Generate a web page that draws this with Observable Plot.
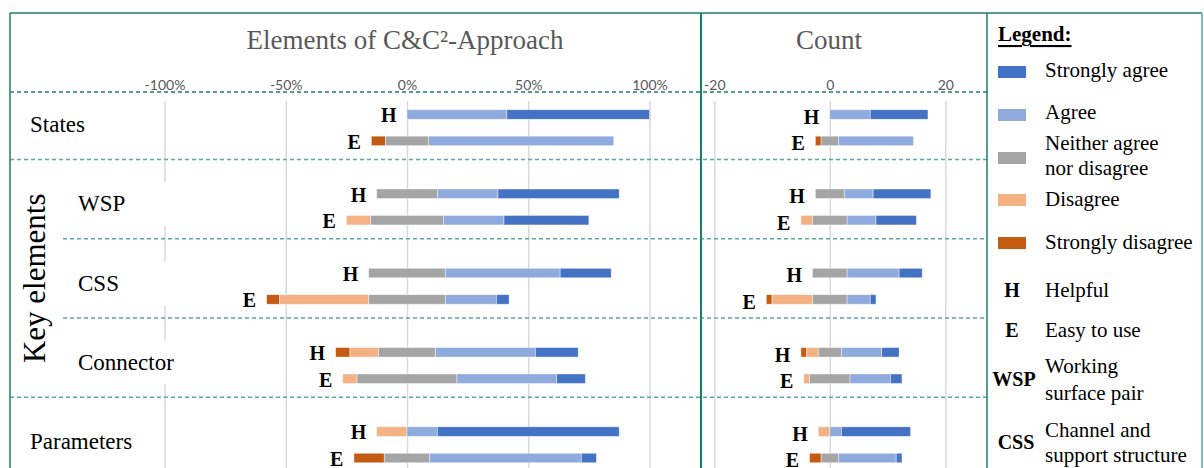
<!DOCTYPE html>
<html><head><meta charset="utf-8">
<script src="https://cdn.jsdelivr.net/npm/d3@7"></script>
<script src="https://cdn.jsdelivr.net/npm/@observablehq/plot@0.6"></script>
<style>
body{margin:0;background:#fff;}
#root{position:relative;width:1204px;height:468px;overflow:hidden;background:#fff;font-family:"Liberation Serif","Times New Roman",serif;}
#root > svg{position:absolute;top:0;}
</style></head><body><div id="root"></div>
<script>
// ---- data ----
const groups = ["States","WSP","CSS","Connector","Parameters"];
const innerGroups = ["WSP","CSS","Connector"];
const ratings = ["Strongly disagree","Disagree","Neither agree nor disagree","Agree","Strongly agree"];
const colors = ["#C55A11","#F4B183","#A5A5A5","#8FAADC","#4472C4"];
const aspects = ["H","E"];
// counts per group: [Strongly disagree, Disagree, Neither, Agree, Strongly agree]
const helpful = [[0,0,0,7,10],[0,0,5,5,10],[0,0,6,9,4],[1,2,4,7,3],[0,2,0,2,12]];
const easy    = [[1,0,3,13,0],[0,2,6,5,7],[1,7,6,4,1],[0,1,7,7,2],[2,0,3,10,1]];
const pctTicks = [-1,-0.5,0,0.5,1];
const countTicks = [-20,0,20];
const legendLabels = [["Strongly agree"],["Agree"],["Neither agree","nor disagree"],["Disagree"],["Strongly disagree"]];
const abbrevs = [["H",["Helpful"]],["E",["Easy to use"]],["WSP",["Working","surface pair"]],["CSS",["Channel and","support structure"]]];

// ---- build rows & segments ----
function build(scaleByN){
  const rows=[], segs=[];
  groups.forEach((g,gi)=>{
    aspects.forEach((a,ai)=>{
      const c = ai===0 ? helpful[gi] : easy[gi];
      const n = d3.sum(c);
      const f = scaleByN ? 1/n : 1;
      const slot = gi*3+ai;
      let cum = -(c[0]+c[1]+c[2]/2)*f;
      rows.push({group:g, aspect:a, slot, start:cum});
      c.forEach((v,k)=>{
        if(v>0){ segs.push({group:g, aspect:a, slot, rating:ratings[k], x1:cum, x2:cum+v*f}); }
        cum += v*f;
      });
    });
  });
  return {rows,segs};
}
const pct = build(true), cnt = build(false);

const yOpt = {domain:[0,13], range:[114.5,458], axis:null};
const serif = "Liberation Serif";
const sans = "Lato";

function panel(data, ticks, fmt, width, xdom, xrange, labelDy){
  return Plot.plot({
    width, height:468, marginTop:92, marginBottom:0, marginLeft:0, marginRight:0,
    x:{domain:xdom, range:xrange, axis:null},
    y:yOpt,
    color:{domain:ratings, range:colors},
    style:{background:"transparent", overflow:"visible"},
    marks:[
      Plot.ruleX(ticks, {x:d=>d, stroke:"#D9D9D9", strokeWidth:1.5, insetTop:9}),
      Plot.text(ticks, {x:d=>d, text:fmt, frameAnchor:"top", dy:-12, fill:"#595959", fontSize:14, fontFamily:sans}),
      Plot.rect(data.segs, {x1:"x1", x2:"x2", y1:d=>d.slot-0.18, y2:d=>d.slot+0.18, fill:"rating", stroke:"white", strokeWidth:0.7, strokeOpacity:0.6}),
      Plot.text(data.rows, {x:"start", y:"slot", text:"aspect", textAnchor:"end", dx:-11, dy:labelDy, fontWeight:"bold", fontSize:20, fontFamily:serif, fill:"#000"})
    ]
  });
}

const root = document.getElementById("root");
const left = panel(pct, pctTicks, d=>`${Math.round(d*100)}%`, 701, [-1,1], [164.5,649.5], 1);
left.style.left = "0px";
root.appendChild(left);
const right = panel(cnt, countTicks, d=>`${d}`, 286, [-20,20], [13.3,244.3], 2.5);
right.style.left = "701px";
root.appendChild(right);

// ---- overlay: frame, separators, titles, labels, legend ----
const ys = left.scale("y");
const svg = d3.select(root).append("svg").attr("width",1204).attr("height",468)
  .style("left","0px").style("pointer-events","none");
const dark = "#1B7F6E", dash = "#56AB9D";

// white boxes behind inner row labels (as in the original text boxes)
innerGroups.forEach(g=>{
  const gi = groups.indexOf(g);
  const yc = ys.apply(gi*3+0.5);
  svg.append("rect").attr("x",63).attr("y",yc-25).attr("width",108).attr("height",44).attr("fill","#fff");
});

// row labels
groups.forEach((g,gi)=>{
  const inner = innerGroups.includes(g);
  svg.append("text").attr("x", inner?78:30).attr("y", ys.apply(gi*3+0.5)-3)
    .attr("dominant-baseline","central").attr("font-family",serif).attr("font-size",23).attr("fill","#000").text(g);
});
const kc = (ys.apply(3.5)+ys.apply(9.5))/2;
svg.append("text").attr("transform",`translate(34,${kc-8}) rotate(-90)`).attr("text-anchor","middle")
  .attr("dominant-baseline","central").attr("font-family",serif).attr("font-size",31).attr("fill","#000").text("Key elements");

// separators
svg.append("line").attr("x1",10).attr("x2",987).attr("y1",92).attr("y2",92)
  .attr("stroke",dark).attr("stroke-width",1.3).attr("stroke-dasharray","4,3");
[[1.7,10],[4.7,63],[7.7,63],[10.7,10]].forEach(([s,x0])=>{
  const y = ys.apply(s);
  svg.append("line").attr("x1",x0).attr("x2",987).attr("y1",y).attr("y2",y)
    .attr("stroke",dash).attr("stroke-width",1.5).attr("stroke-dasharray","4,3");
});

// frame
svg.append("line").attr("x1",10).attr("x2",1202).attr("y1",13).attr("y2",13).attr("stroke",dark).attr("stroke-width",1.5);
svg.append("line").attr("x1",10).attr("x2",10).attr("y1",13).attr("y2",468).attr("stroke",dark).attr("stroke-width",1.5);
svg.append("line").attr("x1",701).attr("x2",701).attr("y1",13).attr("y2",468).attr("stroke",dark).attr("stroke-width",2);
svg.append("line").attr("x1",987).attr("x2",987).attr("y1",13).attr("y2",468).attr("stroke",dark).attr("stroke-width",1.5);
svg.append("line").attr("x1",1202).attr("x2",1202).attr("y1",13).attr("y2",468).attr("stroke","#7FC2B7").attr("stroke-width",2);

// titles
svg.append("text").attr("x",405).attr("y",40).attr("text-anchor","middle").attr("dominant-baseline","central")
  .attr("font-family",serif).attr("font-size",27).attr("fill","#595959").text("Elements of C&C²-Approach");
svg.append("text").attr("x",829).attr("y",40).attr("text-anchor","middle").attr("dominant-baseline","central")
  .attr("font-family",serif).attr("font-size",27).attr("fill","#595959").text("Count");

// legend
svg.append("text").attr("x",998).attr("y",34).attr("dominant-baseline","central").attr("font-family",serif)
  .attr("font-size",21).attr("font-weight","bold").attr("text-decoration","underline").attr("fill","#000").text("Legend:");
const swY = [72,115,158,200,243];
const txY = [[70],[112],[143,168],[199],[242]];
legendLabels.forEach((lines,i)=>{
  svg.append("rect").attr("x",998).attr("y",swY[i]-6).attr("width",28).attr("height",12).attr("fill",colors[colors.length-1-i]);
  lines.forEach((t,j)=>{
    svg.append("text").attr("x",1045).attr("y",txY[i][j]).attr("dominant-baseline","central")
      .attr("font-family",serif).attr("font-size",21).attr("fill","#000").text(t);
  });
});
const abY = [[290,[290]],[330,[330]],[379,[366,393]],[442,[430,455]]];
const abX = [1012,1012,1014,1016];
abbrevs.forEach(([sym,lines],i)=>{
  svg.append("text").attr("x",abX[i]).attr("y",abY[i][0]).attr("text-anchor","middle").attr("dominant-baseline","central")
    .attr("font-family",serif).attr("font-size",20).attr("font-weight","bold").attr("fill","#000").text(sym);
  lines.forEach((t,j)=>{
    svg.append("text").attr("x",1045).attr("y",abY[i][1][j]).attr("dominant-baseline","central")
      .attr("font-family",serif).attr("font-size",21).attr("fill","#000").text(t);
  });
});
</script></body></html>
